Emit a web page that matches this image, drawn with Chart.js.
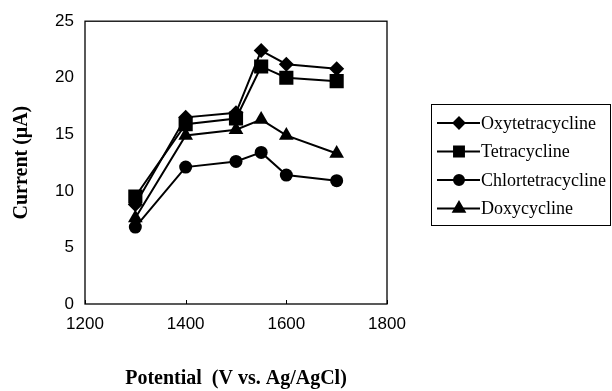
<!DOCTYPE html>
<html>
<head>
<meta charset="utf-8">
<script src="https://cdn.jsdelivr.net/npm/chart.js@4"></script>
<style>
  html, body { margin: 0; padding: 0; background: #ffffff; }
  #wrap { width: 612px; height: 391px; position: relative; }
</style>
</head>
<body>
<div id="wrap"><canvas id="chart"></canvas></div>
<script>
"use strict";

// Potential (V vs. Ag/AgCl) and current (µA) per compound
const potentials        = [1300, 1400, 1500, 1550, 1600, 1700];
const oxytetracycline   = [8.8, 16.5, 16.9, 22.4, 21.2, 20.8];
const tetracycline      = [9.5, 15.9, 16.4, 21.0, 20.0, 19.7];
const chlortetracycline = [6.8, 12.1, 12.6, 13.4, 11.4, 10.9];
const doxycycline       = [7.6, 14.9, 15.4, 16.3, 14.9, 13.3];

const xTicks = [1200, 1400, 1600, 1800];
const yTicks = [0, 5, 10, 15, 20, 25];

const series = [
    { label: "Oxytetracycline",   values: oxytetracycline,   style: "rectRot",  radius: 7.5, legendRadius: 5.5 },
    { label: "Tetracycline",      values: tetracycline,      style: "rect",     radius: 10,  legendRadius: 7 },
    { label: "Chlortetracycline", values: chlortetracycline, style: "circle",   radius: 6.5, legendRadius: 5 },
    { label: "Doxycycline",       values: doxycycline,       style: "triangle", radius: 8.5, legendRadius: 6.5 }
];

const SANS  = "'Liberation Sans', Arial, sans-serif";
const SERIF = "'Liberation Serif', 'Times New Roman', serif";

// frame around plot area + small inner ticks on x axis
const framePlugin = {
    id: "frame",
    afterDraw(chart) {
        const { ctx, chartArea: a, scales } = chart;
        ctx.save();
        ctx.strokeStyle = "#000";
        ctx.lineWidth = 1.3;
        ctx.strokeRect(a.left, a.top, a.right - a.left, a.bottom - a.top);
        ctx.lineWidth = 1;
        xTicks.forEach(v => {
            const px = Math.round(scales.x.getPixelForValue(v)) + 0.5;
            ctx.beginPath();
            ctx.moveTo(px, a.bottom);
            ctx.lineTo(px, a.bottom - 4);
            ctx.stroke();
        });
        ctx.restore();
    }
};

// boxed legend on the right, line through marker like the original
const legendPlugin = {
    id: "boxLegend",
    afterDraw(chart) {
        const ctx = chart.ctx;
        const box = { left: 431.5, top: 104.5, right: 610.5, bottom: 225.5 };
        ctx.save();
        ctx.strokeStyle = "#000";
        ctx.lineWidth = 1;
        ctx.strokeRect(box.left, box.top, box.right - box.left, box.bottom - box.top);
        ctx.font = "18px " + SERIF;
        ctx.textBaseline = "middle";
        ctx.fillStyle = "#000";
        series.forEach((s, i) => {
            const y = 123 + i * 28.5;
            ctx.lineWidth = 2;
            ctx.beginPath();
            ctx.moveTo(437, y);
            ctx.lineTo(480, y);
            ctx.stroke();
            Chart.helpers.drawPoint(ctx, { pointStyle: s.style, radius: s.legendRadius, borderWidth: 1, rotation: 0 }, 459, y);
            ctx.fill();
            ctx.fillText(s.label, 481, y + 1);
        });
        ctx.restore();
    }
};

const chart = new Chart(document.getElementById("chart"), {
    type: "line",
    data: {
        datasets: series.map(s => ({
            label: s.label,
            data: potentials.map((p, i) => ({ x: p, y: s.values[i] })),
            borderColor: "#000",
            backgroundColor: "#000",
            borderWidth: 2,
            pointStyle: s.style,
            pointRadius: s.radius,
            pointBorderWidth: 0,
            pointBackgroundColor: "#000",
            pointBorderColor: "#000",
            fill: false,
            tension: 0
        }))
    },
    options: {
        responsive: true,
        maintainAspectRatio: false,
        animation: false,
        devicePixelRatio: 1,
        layout: { padding: { left: 8, right: 225, top: 20, bottom: 0 } },
        plugins: {
            legend: { display: false },
            tooltip: { enabled: false }
        },
        scales: {
            x: {
                type: "linear",
                min: 1200, max: 1800,
                afterBuildTicks: scale => { scale.ticks = xTicks.map(v => ({ value: v })); },
                afterFit: scale => { scale.height = 87; },
                grid: { display: false, drawTicks: false },
                border: { display: false },
                ticks: { color: "#000", padding: 10, font: { family: SANS, size: 17 }, maxRotation: 0, callback: v => String(v) },
                title: {
                    display: true,
                    text: "Potential  (V vs. Ag/AgCl)",
                    color: "#000",
                    font: { family: SERIF, size: 20, weight: "bold" },
                    padding: { top: 0, bottom: 0 }
                }
            },
            y: {
                min: 0, max: 25,
                afterBuildTicks: scale => { scale.ticks = yTicks.map(v => ({ value: v })); },
                afterFit: scale => { scale.width = 77; },
                grid: { display: false, drawTicks: false },
                border: { display: false },
                ticks: { color: "#000", padding: 11, font: { family: SANS, size: 17 }, callback: v => String(v) },
                title: {
                    display: true,
                    text: "Current (μA)",
                    color: "#000",
                    font: { family: SERIF, size: 20, weight: "bold" },
                    padding: { top: 2, bottom: 0 }
                }
            }
        }
    },
    plugins: [framePlugin, legendPlugin]
});
</script>
</body>
</html>
